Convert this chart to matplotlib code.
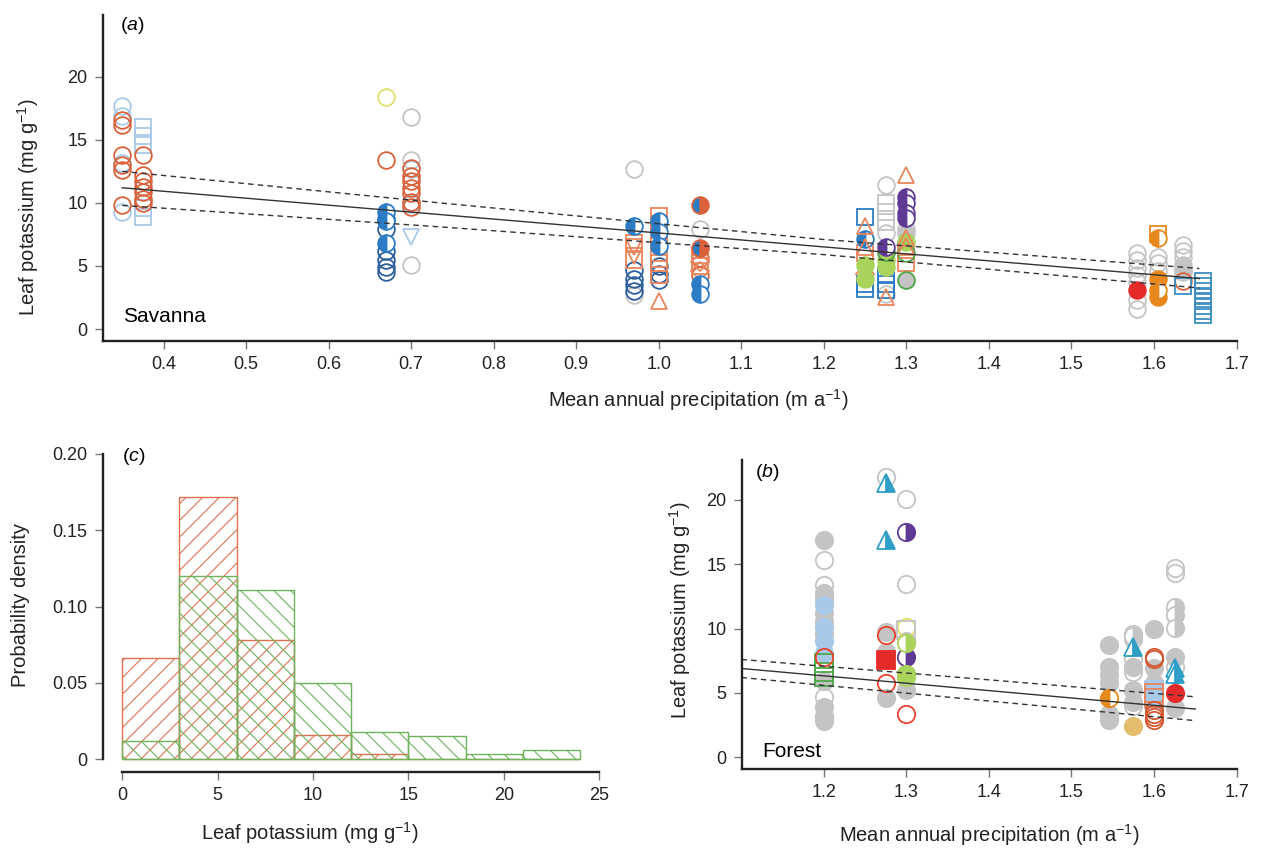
import matplotlib.pyplot as plt

plt.rcParams['font.family'] = ['Liberation Sans', 'DejaVu Sans']
plt.rcParams['mathtext.fontset'] = 'custom'
plt.rcParams['mathtext.rm'] = 'Liberation Sans'
plt.rcParams['mathtext.it'] = 'Liberation Sans:italic'
plt.rcParams['hatch.linewidth'] = 0.8

# ---------------- (a) savanna: MAP (m/a) vs leaf K (mg/g) ----------------
sav_grey_x = [0.70, 0.70, 0.70, 0.97, 0.97, 1.05, 1.275, 1.275, 1.275, 1.30,
              1.58, 1.58, 1.58, 1.58, 1.58, 1.58, 1.58, 1.605, 1.605, 1.605,
              1.635, 1.635, 1.635, 1.635]
sav_grey_y = [16.8, 13.4, 5.1, 12.7, 2.7, 7.9, 11.4, 7.6, 2.8, 7.9,
              6.0, 5.5, 4.8, 4.3, 3.7, 2.3, 1.6, 5.7, 5.2, 4.6,
              6.7, 6.2, 5.7, 4.5]
sav_grey_sq_x = [1.275, 1.275, 1.275]
sav_grey_sq_y = [10.0, 9.3, 8.5]
sav_grey_fill_x = [1.275, 1.30, 1.30, 1.635, 1.635]
sav_grey_fill_y = [6.0, 7.6, 3.9, 5.1, 4.7]
sav_ltblue_x = [0.35, 0.35, 0.35, 0.35, 0.70, 0.70]
sav_ltblue_y = [17.7, 16.9, 13.2, 9.3, 12.7, 9.9]
sav_ltblue_sq_x = [0.375, 0.375, 0.375, 0.375, 0.375]
sav_ltblue_sq_y = [16.0, 15.3, 14.6, 9.6, 8.9]
sav_ltblue_tri_x = [0.70]
sav_ltblue_tri_y = [7.3]
sav_yellow_x = [0.67]
sav_yellow_y = [18.4]
sav_orange_x = [0.35, 0.35, 0.35, 0.35, 0.35, 0.35,
                0.375, 0.375, 0.375, 0.375, 0.375, 0.375, 0.375,
                0.67,
                0.70, 0.70, 0.70, 0.70, 0.70, 0.70, 0.70,
                1.05, 1.05, 1.635]
sav_orange_y = [16.6, 16.2, 13.8, 13.0, 12.6, 9.8,
                13.8, 12.2, 11.7, 11.3, 10.9, 10.3, 10.0,
                13.4,
                12.8, 12.1, 11.7, 11.2, 10.8, 10.1, 9.7,
                5.6, 4.3, 3.8]
sav_dkblue_x = [0.67, 0.67, 0.67, 0.67, 0.67, 0.67,
                0.97, 0.97, 0.97, 0.97, 1.00, 1.00, 1.00]
sav_dkblue_y = [8.7, 7.9, 6.2, 5.5, 4.9, 4.5,
                4.7, 4.0, 3.5, 3.0, 5.0, 4.4, 3.9]
sav_bluehalf_x = [0.67, 0.67, 0.67, 0.97, 1.00, 1.00, 1.00, 1.05, 1.05, 1.25]
sav_bluehalf_y = [9.3, 8.6, 6.8, 8.2, 8.6, 7.7, 6.6, 3.6, 2.8, 7.1]
sav_blueorange_x = [1.05, 1.05]
sav_blueorange_y = [9.8, 6.4]
sav_orsq_x = [0.97, 0.97, 1.00, 1.00, 1.00, 1.00, 1.00, 1.00, 1.00,
              1.05, 1.05, 1.25, 1.30, 1.30]
sav_orsq_y = [6.8, 5.5, 9.0, 8.3, 7.5, 6.9, 6.0, 5.2, 4.3,
              5.9, 5.0, 6.0, 5.2, 6.3]
sav_ortri_x = [1.00, 1.25, 1.25, 1.275, 1.30, 1.30, 1.30]
sav_ortri_y = [2.2, 8.2, 6.5, 2.5, 12.2, 7.2, 6.6]
sav_ortri_dn_x = [0.97, 0.97, 1.00]
sav_ortri_dn_y = [6.5, 5.8, 7.2]
sav_ordiam_x = [1.05, 1.05, 1.25]
sav_ordiam_y = [5.3, 4.6, 4.4]
sav_bluesq_x = [1.25, 1.25, 1.25, 1.275, 1.275, 1.275]
sav_bluesq_y = [8.9, 3.6, 3.2, 4.3, 3.6, 3.1]
sav_purple_x = [1.275, 1.30, 1.30, 1.30, 1.30]
sav_purple_y = [6.5, 10.5, 10.0, 9.2, 8.8]
sav_lime_x = [1.25, 1.25, 1.275, 1.275, 1.30]
sav_lime_y = [5.1, 4.0, 5.5, 4.9, 6.9]
sav_green_x = [1.275, 1.30, 1.30]
sav_green_y = [6.1, 6.0, 3.9]
sav_red_x = [1.58]
sav_red_y = [3.1]
sav_amber_sq_x = [1.605]
sav_amber_sq_y = [7.5]
sav_amber_half_x = [1.605, 1.605]
sav_amber_half_y = [7.2, 3.1]
sav_amber_x = [1.605, 1.605]
sav_amber_y = [4.0, 2.5]
sav_steel_x = [1.635, 1.66, 1.66, 1.66, 1.66, 1.66, 1.66, 1.66, 1.66]
sav_steel_y = [3.4, 3.8, 3.4, 3.0, 2.6, 2.2, 1.8, 1.4, 1.1]

fit_a_x = [0.35, 1.655]
fit_a_mid = [11.2, 4.0]
band_a_x = [0.35, 0.735, 1.2, 1.655]
band_a_hi = [12.5, 10.0, 7.1, 4.8]
band_a_lo = [9.8, 8.1, 5.9, 3.25]

# ---------------- (b) forest ----------------
for_grey_fill_x = [1.2, 1.2, 1.2, 1.2, 1.2, 1.2, 1.2, 1.2, 1.2, 1.2,
                   1.275, 1.275, 1.275, 1.30, 1.30,
                   1.545, 1.545, 1.545, 1.545, 1.545, 1.545,
                   1.575, 1.575, 1.575, 1.60, 1.60, 1.60, 1.625, 1.625]
for_grey_fill_y = [16.9, 12.8, 12.3, 11.2, 10.6, 9.6, 5.9, 3.9, 3.2, 2.8,
                   9.7, 8.2, 4.6, 5.2, 9.0,
                   8.7, 7.0, 6.4, 5.8, 3.4, 2.9,
                   7.0, 5.2, 4.3, 10.0, 6.9, 5.8, 7.8, 3.8]
for_grey_x = [1.2, 1.2, 1.2, 1.275, 1.30, 1.30,
              1.575, 1.575, 1.575, 1.575, 1.575, 1.625, 1.625, 1.625]
for_grey_y = [15.3, 13.4, 4.7, 21.8, 20.1, 13.5,
              9.6, 9.2, 7.6, 6.65, 4.0, 14.7, 14.3, 7.0]
for_grey_half_x = [1.625, 1.625, 1.625, 1.575]
for_grey_half_y = [11.7, 11.05, 10.05, 9.4]
for_ltblue_x = [1.2, 1.2, 1.2, 1.2]
for_ltblue_y = [11.8, 10.15, 9.0, 8.1]
for_ltblue_sq_x = [1.60, 1.60]
for_ltblue_sq_y = [5.2, 4.5]
for_redopen_x = [1.2, 1.275, 1.275, 1.30]
for_redopen_y = [7.8, 9.5, 5.8, 3.4]
for_green_sq_x = [1.2, 1.2, 1.2]
for_green_sq_y = [7.3, 6.6, 6.2]
for_tri_x = [1.275, 1.275, 1.575, 1.625, 1.625]
for_tri_y = [21.3, 16.9, 8.6, 6.9, 6.5]
for_redsq_x = [1.275]
for_redsq_y = [7.55]
for_purple_x = [1.30, 1.30]
for_purple_y = [17.5, 7.8]
for_yellow_x = [1.30]
for_yellow_y = [10.15]
for_grey_sq_x = [1.30]
for_grey_sq_y = [9.9]
for_lime_half_x = [1.30]
for_lime_half_y = [8.9]
for_lime_x = [1.30]
for_lime_y = [6.5]
for_lime_open_x = [1.30]
for_lime_open_y = [6.2]
for_amber_half_x = [1.545]
for_amber_half_y = [4.6]
for_tan_x = [1.575]
for_tan_y = [2.4]
for_rust_x = [1.60, 1.60, 1.60, 1.60, 1.60, 1.60]
for_rust_y = [7.8, 7.6, 3.7, 3.4, 3.1, 2.9]
for_rust_sq_x = [1.60, 1.60]
for_rust_sq_y = [5.0, 4.6]
for_red_x = [1.625]
for_red_y = [4.97]

fit_b_x = [1.1, 1.65]
fit_b_mid = [6.9, 3.75]
fit_b_hi = [7.6, 4.7]
fit_b_lo = [6.2, 2.85]

# ---------------- (c) histogram of leaf K ----------------
bin_left = [0, 3, 6, 9, 12, 15, 18, 21]
bin_width = 3
sav_density = [0.066, 0.172, 0.078, 0.016, 0.003, 0.0, 0.0, 0.0]
for_density = [0.012, 0.120, 0.111, 0.050, 0.018, 0.015, 0.003, 0.006]

ORANGE = '#d9623b'
LTBLUE = '#a9c9e8'
GREY = '#c4c4c4'
DKBLUE = '#2d5f9e'
BLUE = '#2b7cc4'
SALMON = '#e8855c'
PURPLE = '#5f3a95'
LIME = '#a9d35b'
GREEN = '#4ea84a'
RED = '#e52b2a'
AMBER = '#e8891e'
STEEL = '#3f8fc3'
TEAL = '#2f9fc8'
YELLOW = '#e2df6a'
TAN = '#e3bd6d'

W, H = 1262, 849
fig = plt.figure(figsize=(W / 100, H / 100), dpi=100)


def box(left, top, right, bottom):
    return fig.add_axes([left / W, 1 - bottom / H, (right - left) / W, (bottom - top) / H])


def style(ax):
    ax.spines['top'].set_visible(False)
    ax.spines['right'].set_visible(False)
    for s in ['left', 'bottom']:
        ax.spines[s].set_linewidth(1.7)
        ax.spines[s].set_color('#222222')
    ax.tick_params(direction='out', length=6, width=1.0, color='#777777',
                   labelcolor='#222222', labelsize=13, pad=5)


def pts(ax, x, y, color, marker='o', fill='none', alt='white', ms=12, edge=None):
    kw = dict(ls='none', marker=marker, ms=ms, mew=1.3, mec=edge or color)
    if fill == 'none':
        kw.update(mfc='none')
    elif fill == 'full':
        kw.update(mfc=color)
    else:
        kw.update(fillstyle=fill, mfc=color, markerfacecoloralt=alt)
    ax.plot(x, y, **kw)


# ---- panel a ----
ax = box(103, 15, 1236.5, 341)
style(ax)
pts(ax, sav_grey_x, sav_grey_y, GREY)
pts(ax, sav_grey_sq_x, sav_grey_sq_y, GREY, 's')
pts(ax, sav_grey_fill_x, sav_grey_fill_y, GREY, fill='full')
pts(ax, sav_ltblue_sq_x, sav_ltblue_sq_y, LTBLUE, 's')
pts(ax, sav_ltblue_x, sav_ltblue_y, LTBLUE)
pts(ax, sav_ltblue_tri_x, sav_ltblue_tri_y, LTBLUE, 'v')
pts(ax, sav_yellow_x, sav_yellow_y, YELLOW)
pts(ax, sav_orange_x, sav_orange_y, ORANGE)
pts(ax, sav_dkblue_x, sav_dkblue_y, DKBLUE)
pts(ax, sav_orsq_x, sav_orsq_y, SALMON, 's')
pts(ax, sav_ortri_dn_x, sav_ortri_dn_y, SALMON, 'v')
pts(ax, sav_ordiam_x, sav_ordiam_y, SALMON, 'D', ms=9)
pts(ax, sav_bluehalf_x, sav_bluehalf_y, BLUE, fill='left')
pts(ax, sav_blueorange_x, sav_blueorange_y, BLUE, fill='left', alt=ORANGE, edge=ORANGE)
pts(ax, sav_bluesq_x, sav_bluesq_y, BLUE, 's')
pts(ax, sav_lime_x, sav_lime_y, LIME, fill='full')
pts(ax, sav_green_x, sav_green_y, GREEN)
pts(ax, sav_purple_x, sav_purple_y, PURPLE, fill='left')
pts(ax, sav_ortri_x, sav_ortri_y, SALMON, '^')
pts(ax, sav_amber_x, sav_amber_y, AMBER, fill='full')
pts(ax, sav_amber_sq_x, sav_amber_sq_y, AMBER, 's')
pts(ax, sav_amber_half_x, sav_amber_half_y, AMBER, fill='left')
pts(ax, sav_red_x, sav_red_y, RED, fill='full')
pts(ax, sav_steel_x, sav_steel_y, STEEL, 's')

ax.plot(fit_a_x, fit_a_mid, color='#333333', lw=1.0)
ax.plot(band_a_x, band_a_hi, color='#333333', lw=1.0, ls=(0, (4, 3)))
ax.plot(band_a_x, band_a_lo, color='#333333', lw=1.0, ls=(0, (4, 3)))

ax.set_xlim(0.3267, 1.70)
ax.set_ylim(-0.95, 24.9)
ax.set_xticks([0.4, 0.5, 0.6, 0.7, 0.8, 0.9, 1.0, 1.1, 1.2, 1.3, 1.4, 1.5, 1.6, 1.7])
ax.set_xticklabels(['0.4', '0.5', '0.6', '0.7', '0.8', '0.9', '1.0', '1.1',
                    '1.2', '1.3', '1.4', '1.5', '1.6', '1.7'])
ax.set_yticks([0, 5, 10, 15, 20])
ax.set_xlabel('Mean annual precipitation (m a$^{-1}$)', fontsize=14.5, color='#222222')
ax.xaxis.set_label_coords(0.525, -0.18)
ax.xaxis.label.set_va('center')
ax.set_ylabel('Leaf potassium (mg g$^{-1}$)', fontsize=14.5, color='#222222')
ax.yaxis.set_label_coords(-0.066, 0.41)
ax.yaxis.label.set_va('center')
ax.text(0.015, 1.0, '($\\mathit{a}$)', transform=ax.transAxes, fontsize=14, va='top', ha='left')
ax.text(0.018, 0.074, 'Savanna', transform=ax.transAxes, fontsize=15, va='center', ha='left')

# ---- panel b ----
bx = box(742, 460, 1236.5, 769)
style(bx)
ms_b = 12.5
pts(bx, for_grey_fill_x, for_grey_fill_y, GREY, fill='full', ms=ms_b)
pts(bx, for_grey_x, for_grey_y, GREY, ms=ms_b)
pts(bx, for_grey_half_x, for_grey_half_y, GREY, fill='right', ms=ms_b)
pts(bx, for_ltblue_x, for_ltblue_y, LTBLUE, fill='full', ms=ms_b)
pts(bx, for_ltblue_sq_x, for_ltblue_sq_y, LTBLUE, 's', fill='full', ms=ms_b)
pts(bx, for_green_sq_x, for_green_sq_y, GREEN, 's', ms=ms_b)
pts(bx, for_redopen_x, for_redopen_y, '#e8432d', ms=ms_b)
pts(bx, for_redsq_x, for_redsq_y, RED, 's', fill='full', ms=ms_b)
pts(bx, for_tri_x, for_tri_y, TEAL, '^', fill='right', ms=ms_b)
pts(bx, for_purple_x, for_purple_y, PURPLE, fill='right', ms=ms_b)
pts(bx, for_yellow_x, for_yellow_y, YELLOW, ms=ms_b)
pts(bx, for_grey_sq_x, for_grey_sq_y, GREY, 's', ms=ms_b)
pts(bx, for_lime_half_x, for_lime_half_y, LIME, fill='right', ms=ms_b)
pts(bx, for_lime_x, for_lime_y, LIME, fill='full', ms=ms_b)
pts(bx, for_lime_open_x, for_lime_open_y, LIME, ms=ms_b)
pts(bx, for_amber_half_x, for_amber_half_y, AMBER, fill='left', ms=ms_b)
pts(bx, for_tan_x, for_tan_y, TAN, fill='full', ms=ms_b)
pts(bx, for_rust_sq_x, for_rust_sq_y, SALMON, 's', ms=ms_b)
pts(bx, for_rust_x, for_rust_y, '#d25a32', ms=ms_b)
pts(bx, for_red_x, for_red_y, RED, fill='full', ms=ms_b)

bx.plot(fit_b_x, fit_b_mid, color='#333333', lw=1.0)
bx.plot(fit_b_x, fit_b_hi, color='#333333', lw=1.0, ls=(0, (4, 3)))
bx.plot(fit_b_x, fit_b_lo, color='#333333', lw=1.0, ls=(0, (4, 3)))

bx.set_xlim(1.1007, 1.70)
bx.set_ylim(-0.91, 23.1)
bx.set_xticks([1.2, 1.3, 1.4, 1.5, 1.6, 1.7])
bx.set_xticklabels(['1.2', '1.3', '1.4', '1.5', '1.6', '1.7'])
bx.set_yticks([0, 5, 10, 15, 20])
bx.set_xlabel('Mean annual precipitation (m a$^{-1}$)', fontsize=14.5, color='#222222')
bx.xaxis.set_label_coords(0.501, -0.214)
bx.xaxis.label.set_va('center')
bx.set_ylabel('Leaf potassium (mg g$^{-1}$)', fontsize=14.5, color='#222222')
bx.yaxis.set_label_coords(-0.125, 0.515)
bx.yaxis.label.set_va('center')
bx.text(0.026, 0.995, '($\\mathit{b}$)', transform=bx.transAxes, fontsize=14, va='top', ha='left')
bx.text(0.04, 0.058, 'Forest', transform=bx.transAxes, fontsize=15, va='center', ha='left')

# ---- panel c ----
cx = box(103, 445, 605, 772)
style(cx)
cx.bar(bin_left, sav_density, width=bin_width, align='edge', fill=False,
       edgecolor='#e0714f', hatch='//', lw=1.0)
cx.bar(bin_left, for_density, width=bin_width, align='edge', fill=False,
       edgecolor='#6db35c', hatch='\\\\', lw=1.0)
cx.set_xlim(-1.0, 25.3)
cx.set_ylim(-0.0085, 0.2059)
cx.spines['left'].set_bounds(0, 0.2)
cx.spines['bottom'].set_bounds(0, 25)
cx.set_xticks([0, 5, 10, 15, 20, 25])
cx.set_yticks([0, 0.05, 0.10, 0.15, 0.20])
cx.set_yticklabels(['0', '0.05', '0.10', '0.15', '0.20'])
cx.set_xlabel('Leaf potassium (mg g$^{-1}$)', fontsize=14.5, color='#222222')
cx.xaxis.set_label_coords(0.412, -0.187)
cx.xaxis.label.set_va('center')
cx.set_ylabel('Probability density', fontsize=14.5, color='#222222')
cx.yaxis.set_label_coords(-0.165, 0.51)
cx.yaxis.label.set_va('center')
cx.text(0.0, 0.2055, '($\\mathit{c}$)', fontsize=14, va='top', ha='left')

fig.savefig('out.png', dpi=100)
